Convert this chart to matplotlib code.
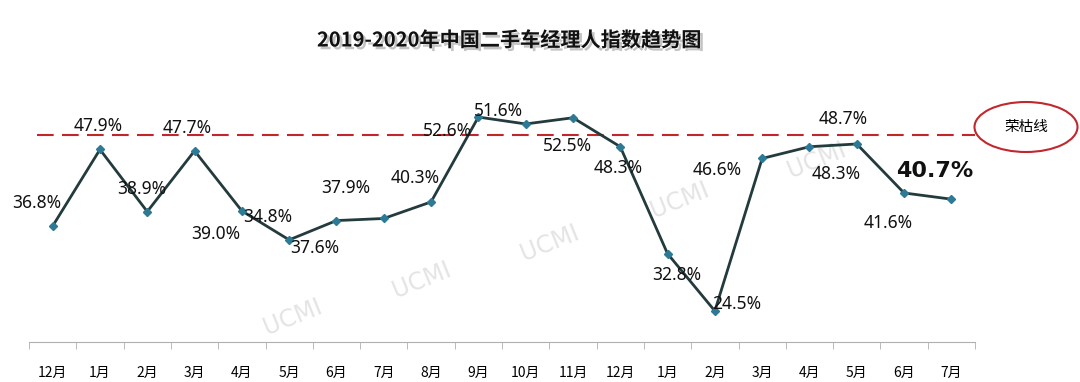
import numpy as np
import matplotlib.pyplot as plt
from matplotlib.patches import Ellipse
import matplotlib.patheffects as pe

plt.rcParams['font.family'] = ['Noto Sans CJK SC', 'DejaVu Sans']

# data
months = ['12月', '1月', '2月', '3月', '4月', '5月', '6月', '7月', '8月', '9月',
          '10月', '11月', '12月', '1月', '2月', '3月', '4月', '5月', '6月', '7月']
index_vals = [36.8, 47.9, 38.9, 47.7, 39.0, 34.8, 37.6, 37.9, 40.3, 52.6,
              51.6, 52.5, 48.3, 32.8, 24.5, 46.6, 48.3, 48.7, 41.6, 40.7]
boom_bust = 50.0
title = '2019-2020年中国二手车经理人指数趋势图'

# label offsets in pixels (dx, dy up)
lab_off = [(-16, 23), (-2, 23), (-5, 23), (-7, 23), (-26, -23), (-21, 23), (-22, -27),
           (-38, 30), (-16, 24), (-31, -14), (-27, 13), (-5, -28), (-2, -21), (9, -21),
           (22, 7), (-45, -12), (27, -27), (-14, 25), (-16, -30), (-17, 28)]

W, H = 1080, 382
fig = plt.figure(figsize=(W / 100, H / 100), dpi=100)
ax = fig.add_axes([29 / W, 1 - 342 / H, 946 / W, 276 / H])

x = np.arange(len(months))
ax.plot(x, index_vals, color='#243B3E', lw=2, zorder=3,
        marker='D', ms=4.5, mfc='#2C7A95', mec='#2C7A95')

ax.axhline(boom_bust, xmin=8 / 946, xmax=1.0, color='#C0262B', lw=1.5,
           ls=(0, (8, 4)), zorder=2)

for i, v in enumerate(index_vals):
    dx, dy = lab_off[i]
    if i == len(index_vals) - 1:
        ax.annotate(f'{v:.1f}%', (x[i], v), xytext=(dx, dy), textcoords='offset pixels',
                    ha='center', va='center', fontsize=16, fontweight='bold',
                    family='DejaVu Sans', color='#111111', zorder=4)
    else:
        ax.annotate(f'{v:.1f}%', (x[i], v), xytext=(dx, dy), textcoords='offset pixels',
                    ha='center', va='center', fontsize=12.5, family='Noto Sans',
                    color='#111111', zorder=4)

ax.set_xlim(-0.5, len(months) - 0.5)
ax.set_ylim(20, 60)
ax.set_xticks(x)
ax.set_xticklabels(months, fontsize=10)
ax.set_xticks(np.arange(-0.5, len(months)), minor=True)
ax.tick_params(axis='x', which='major', length=0, pad=17)
ax.tick_params(axis='x', which='minor', length=5, color='#b0b0b0')
ax.set_yticks([])
for s in ['left', 'top', 'right']:
    ax.spines[s].set_visible(False)
ax.spines['bottom'].set_color('#b0b0b0')
ax.patch.set_alpha(0)

# watermarks
for wx, wy in [(293, 317), (422, 280), (550, 243), (680, 200), (817, 160)]:
    ax.text(wx / W, 1 - wy / H, 'UCMI', transform=fig.transFigure, rotation=22,
            ha='center', va='center', fontsize=17, color='#e4e4e4',
            family='DejaVu Sans', zorder=0.5)

# boom-bust ellipse
ell = Ellipse((1026 / W, 1 - 127 / H), 103 / W, 50 / H, transform=fig.transFigure,
              fill=False, ec='#C0282D', lw=1.5)
fig.patches.append(ell)
fig.text(1026 / W, 1 - 127 / H, '荣枯线', ha='center', va='center', fontsize=10.5)

fig.text(509 / W, 1 - 40 / H, title, ha='center', va='center', fontsize=14.5,
         fontweight='bold', color='#111111',
         path_effects=[pe.withSimplePatchShadow(offset=(2, -2), shadow_rgbFace='#888888', alpha=0.5)])

fig.savefig('out.png', dpi=100)
